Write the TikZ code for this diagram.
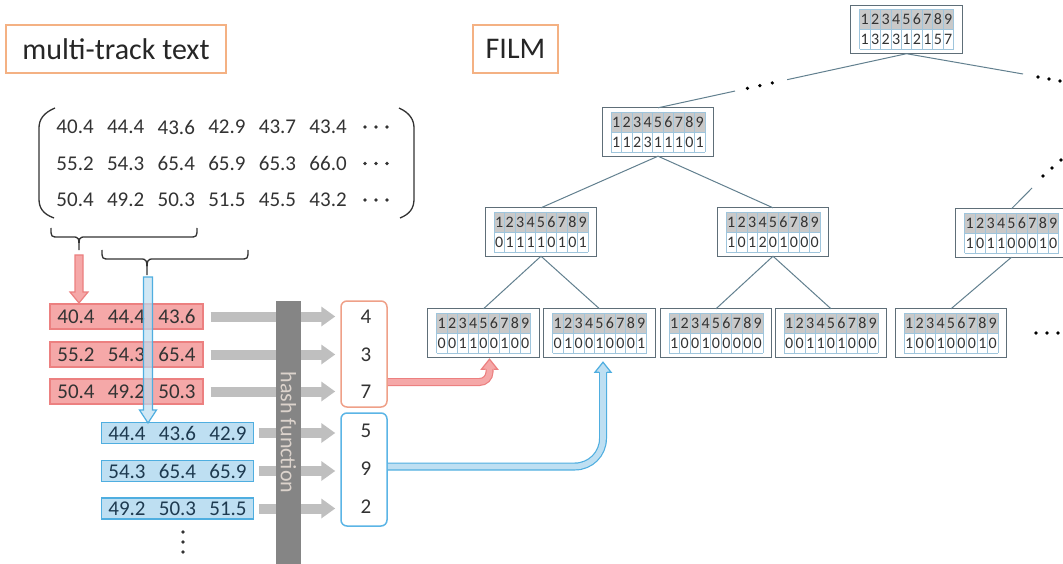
\documentclass[tikz,border=0pt]{standalone}
\usepackage{fontspec}
\setmainfont{Carlito}
\usetikzlibrary{arrows.meta,calc}

\definecolor{lblB}{HTML}{F4B183}
\definecolor{txt}{HTML}{262626}
\definecolor{numT}{HTML}{333333}
\definecolor{redF}{HTML}{F5A8A8}
\definecolor{redB}{HTML}{EC8080}
\definecolor{blueF}{HTML}{BEDFF2}
\definecolor{blueB}{HTML}{4FAEE0}
\definecolor{blueT}{HTML}{1E3A50}
\definecolor{grayA}{HTML}{BFBFBF}
\definecolor{hashF}{HTML}{858585}
\definecolor{hashT}{HTML}{DCD3CC}
\definecolor{setR}{HTML}{EFA088}
\definecolor{setB}{HTML}{5BB5E6}
\definecolor{boxB}{HTML}{5E6E78}
\definecolor{cellG}{HTML}{C9C9C9}
\definecolor{gridC}{HTML}{9FC5DC}
\definecolor{edgeC}{HTML}{62808F}
\definecolor{inkC}{HTML}{333333}

% three values spaced on a fixed pitch
\newcommand{\trip}[3]{\makebox[50.5pt]{#1}\makebox[50.5pt]{#2}\makebox[50.5pt]{#3}}

% one FILM tree node: name, x, y, comma list of the lower row
\newcommand{\filmnode}[4]{%
  \node[treebox] (#1) at (#2,#3) {};
  \begin{scope}[shift={(#1.center)}]
    \fill[cellG] (-47,-20) rectangle (47,0);
    \foreach \i in {0,...,9} \draw[gridline] ({-47+10.444*\i},-20) -- ++(0,40);
    \foreach \yy in {-20,0,20} \draw[gridline] (-47,\yy) -- (47,\yy);
    \foreach \d [count=\i] in {1,2,3,4,5,6,7,8,9}
      \node[digit] (#1-t\i) at ({-52.222+10.444*\i},-10) {\d};
    \foreach \d [count=\i] in {#4}
      \node[digit] (#1-b\i) at ({-52.222+10.444*\i},10) {\d};
  \end{scope}
  \draw[boxB, line width=1.3pt] (#1.south west) rectangle (#1.north east);
}

\begin{document}
\begin{tikzpicture}[x=1pt, y=-1pt,
  font=\fontsize{21}{25}\selectfont,
  labelbox/.style={draw=lblB, line width=2pt, inner sep=0pt, minimum height=48pt,
    font=\fontsize{30}{36}\selectfont, text=txt},
  val/.style={inner sep=0pt, text=numT},
  redrow/.style={draw=redB, fill=redF, line width=1.2pt, inner sep=0pt,
    minimum width=153pt, minimum height=25pt, text=numT},
  bluerow/.style={draw=blueB, fill=blueF, line width=1.2pt, inner sep=0pt,
    minimum width=141pt, minimum height=21pt, text=blueT},
  numset/.style={rounded corners=6pt, line width=1.5pt, minimum width=46pt, inner sep=0pt},
  grayarrow/.style={draw=grayA, line width=10pt, -{Triangle[length=14pt, width=19pt]}},
  hashbar/.style={fill=hashF, rotate=-90, minimum width=263pt, minimum height=25pt,
    inner sep=0pt, text=hashT, font=\fontsize{22}{26}\selectfont},
  treebox/.style={fill=white, minimum width=111pt, minimum height=48pt, inner sep=0pt},
  gridline/.style={draw=gridC, line width=0.6pt},
  digit/.style={inner sep=0pt, text=inkC, font=\fontsize{16}{18}\selectfont},
  treeedge/.style={draw=edgeC, line width=1pt},
  paren/.style={draw=inkC, line width=1.3pt},
  redpipe/.style={draw=redB, line width=1.2pt, double=redF, double distance=5.6pt, rounded corners=10pt},
  bluepipe/.style={draw=blueB, line width=1.2pt, double=blueF, double distance=5.6pt, rounded corners=28pt},
  redhead/.style={fill=redF, draw=redB, line width=1.2pt},
  bluehead/.style={fill=blueF, draw=blueB, line width=1.2pt},
]
\useasboundingbox (0,0) rectangle (1063,564);
\fill[white] (0,0) rectangle (1063,564);

% ---- titles
\node[labelbox, minimum width=220pt] (mtt) at (116,49) {multi-track text};
\node[labelbox, minimum width=85pt] (film) at (515.5,49) {FILM};

% ---- the multi-track matrix
\foreach \vals [count=\r] in {{40.4,44.4,43.6,42.9,43.7,43.4},{55.2,54.3,65.4,65.9,65.3,66.0},{50.4,49.2,50.3,51.5,45.5,43.2}} {
  \foreach \v [count=\c] in \vals
    \node[val] (m\r\c) at ({24.5+50.6*\c},{90.5+36.5*\r}) {\v};
  \foreach \dx in {-11,0,11}
    \fill[inkC] ({376+\dx},{90.5+36.5*\r}) circle[radius=1.9pt];
}
\draw[paren] (55,108) .. controls (43,113) and (39,120) .. (39,128) -- (39,199)
  .. controls (39,208) and (43,214) .. (54,218);
\draw[paren] (399,108) .. controls (410,113) and (414,120) .. (414,128) -- (414,199)
  .. controls (414,208) and (410,214) .. (400,218);

% ---- braces selecting the sliding windows
\coordinate (brA) at (79,250);
\coordinate (brB) at (147,275);
\draw[paren] (51,228) .. controls (51,237) .. (59,237) -- (72,237)
  .. controls (79,237) .. (brA) .. controls (79,237) .. (86,237) -- (189,237)
  .. controls (197,237) .. (197,228);
\draw[paren] (102,250) .. controls (102,259) .. (110,259) -- (140,259)
  .. controls (147,259) .. (brB) .. controls (147,259) .. (154,259) -- (240,259)
  .. controls (248,259) .. (248,250);

% ---- window rows
\node[redrow] (r1) at (126.5,316.5) {\trip{40.4}{44.4}{43.6}};
\node[redrow] (r2) at (126.5,354.5) {\trip{55.2}{54.3}{65.4}};
\node[redrow] (r3) at (126.5,391.5) {\trip{50.4}{49.2}{50.3}};
\node[bluerow] (b1) at (177.5,433) {\trip{44.4}{43.6}{42.9}};
\node[bluerow] (b2) at (177.5,471) {\trip{54.3}{65.4}{65.9}};
\node[bluerow] (b3) at (177.5,508.5) {\trip{49.2}{50.3}{51.5}};
\foreach \yy in {532,542,552} \fill[inkC] (183,\yy) circle[radius=1.8pt];

% ---- hash values
\node[numset, draw=setR, minimum height=106pt] (redset) at (364,354) {};
\node[numset, draw=setB, minimum height=113pt] (blueset) at (364,469.5) {};
\node[val] (n4) at (366,316.5) {4};
\node[val] (n3) at (366,355) {3};
\node[val] (n7) at (366,392) {7};
\node[val] (n5) at (366,431) {5};
\node[val] (n9) at (366,469) {9};
\node[val] (n2) at (366,507) {2};

\foreach \r in {r1,r2,r3}
  \draw[grayarrow] ([xshift=7pt]\r.east) -- ($(\r.east -| redset.west)+(-5,0)$);
\foreach \r in {b1,b2,b3}
  \draw[grayarrow] ([xshift=5pt]\r.east) -- ($(\r.east -| blueset.west)+(-5,0)$);

\node[hashbar] (hash) at (288.5,432.5) {hash function};

% ---- window block arrows
\filldraw[redhead] (75,255) -- (83,255) -- (83,292) -- (88,292) -- (79,303)
  -- (70,292) -- (75,292) -- cycle;
\filldraw[bluehead, fill opacity=0.7] (143.5,277) -- (152.5,277) -- (152.5,410)
  -- (156.5,410) -- (148,423) -- (139.5,410) -- (143.5,410) -- cycle;

% ---- FILM tree
\filmnode{root}{906.5}{29.5}{1,3,2,3,1,2,1,5,7}
\filmnode{N1}{658}{132}{1,1,2,3,1,1,1,0,1}
\filmnode{M1}{541}{232}{0,1,1,1,1,0,1,0,1}
\filmnode{M2}{773}{232}{1,0,1,2,0,1,0,0,0}
\filmnode{M3}{1011.5}{233}{1,0,1,1,0,0,0,1,0}
\filmnode{L1}{483.5}{333}{0,0,1,1,0,0,1,0,0}
\filmnode{L2}{599.5}{333}{0,1,0,0,1,0,0,0,1}
\filmnode{L3}{716}{333}{1,0,0,1,0,0,0,0,0}
\filmnode{L4}{831}{333}{0,0,1,1,0,1,0,0,0}
\filmnode{L5}{951}{333}{1,0,0,1,0,0,0,1,0}

\draw[treeedge] (N1.south) -- (M1.north);
\draw[treeedge] (N1.south) -- (M2.north);
\draw[treeedge] (M1.south) -- (L1.north);
\draw[treeedge] (M1.south) -- (L2.north);
\draw[treeedge] (M2.south) -- (L3.north);
\draw[treeedge] (M2.south) -- (L4.north);
\draw[treeedge] (M3.south) -- (L5.north);

\draw[treeedge] (N1.north) -- ($(N1.north)!0.31!(root.south)$);
\foreach \t in {0.36,0.41,0.46}
  \fill[black] ($(N1.north)!\t!(root.south)$) circle[radius=1.8pt];
\draw[treeedge] ($(N1.north)!0.52!(root.south)$) -- (root.south);

\coordinate (rootR) at (1023,74);
\draw[treeedge] (root.south) -- (rootR);
\foreach \p in {(1038,77),(1049,79),(1060,81)} \fill[black] \p circle[radius=1.8pt];

\coordinate (m3up) at (1032,188);
\draw[treeedge] (M3.north) -- (m3up);
\foreach \p in {(1043,176),(1052,168),(1061,160)} \fill[black] \p circle[radius=1.8pt];

\foreach \xx in {1036,1047,1058} \fill[black] (\xx,333) circle[radius=1.8pt];

% ---- hash values into the tree leaves
\coordinate (rtip) at ([xshift=6pt,yshift=-2pt]L1.south);
\draw[redpipe] ([yshift=-28pt]redset.east) -| ([yshift=-10pt]rtip);
\filldraw[redhead] ([xshift=-4pt,yshift=-10pt]rtip) -- ([xshift=-8pt,yshift=-10pt]rtip)
  -- (rtip) -- ([xshift=8pt,yshift=-10pt]rtip) -- ([xshift=4pt,yshift=-10pt]rtip);

\coordinate (btip) at ([xshift=3.5pt,yshift=-5pt]L2.south);
\draw[bluepipe] ([yshift=3pt]blueset.east) -| ([yshift=-10pt]btip);
\filldraw[bluehead] ([xshift=-4pt,yshift=-10pt]btip) -- ([xshift=-8pt,yshift=-10pt]btip)
  -- (btip) -- ([xshift=8pt,yshift=-10pt]btip) -- ([xshift=4pt,yshift=-10pt]btip);
\end{tikzpicture}
\end{document}
